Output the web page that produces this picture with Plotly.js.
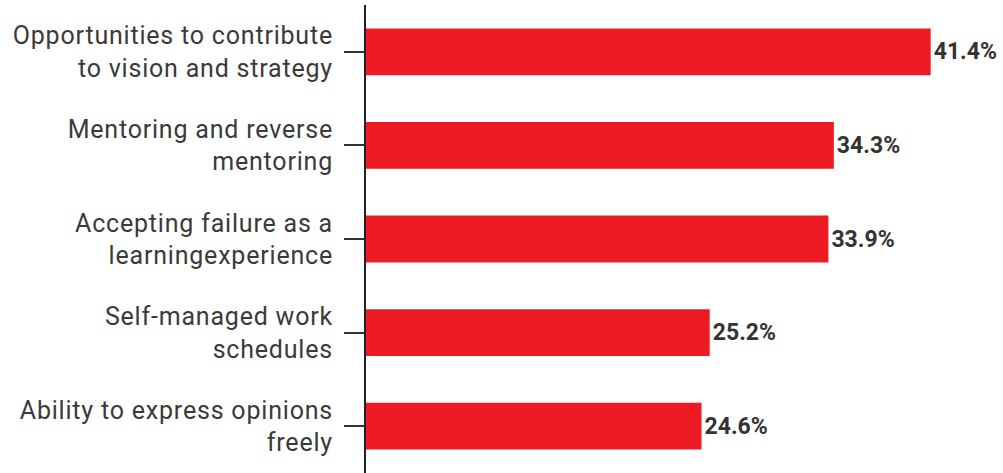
<!DOCTYPE html>
<html>
<head>
<meta charset="utf-8">
<script src="https://cdn.plot.ly/plotly-3.0.1.min.js"></script>
<style>
html,body{margin:0;padding:0;background:#fff;}
#chart{width:1003px;height:473px;}
#chart .ytick text{letter-spacing:0.8px;}
</style>
</head>
<body>
<div id="chart"></div>
<script>
const categories = [
  "Opportunities to contribute<br>to vision and strategy",
  "Mentoring and reverse<br>mentoring",
  "Accepting failure as a<br>learningexperience",
  "Self-managed work<br>schedules",
  "Ability to express opinions<br>freely"
];
const values = [41.4, 34.3, 33.9, 25.2, 24.6];
const valueLabels = ["41.4%", "34.3%", "33.9%", "25.2%", "24.6%"];

Plotly.newPlot("chart", [{
  type: "bar",
  orientation: "h",
  y: categories,
  x: values,
  text: valueLabels,
  textposition: "outside",
  cliponaxis: false,
  textfont: {family: "Roboto", size: 23, color: "#333333", weight: "bold"},
  marker: {color: "#ED1C24"},
  width: 0.5,
  hoverinfo: "none"
}], {
  width: 1003,
  height: 473,
  margin: {l: 366, r: 0, t: 5, b: 0},
  paper_bgcolor: "#ffffff",
  plot_bgcolor: "#ffffff",
  showlegend: false,
  xaxis: {range: [0, 46.7], visible: false, fixedrange: true},
  yaxis: {
    autorange: "reversed",
    showline: true, linecolor: "#222222", linewidth: 2,
    ticks: "outside", ticklen: 20, tickwidth: 2, tickcolor: "#333333",
    tickfont: {family: "Roboto", size: 25, color: "#3a3a3a"},
    ticklabelstandoff: 6,
    showgrid: false, zeroline: false, fixedrange: true
  }
}, {staticPlot: true});
</script>
</body>
</html>
